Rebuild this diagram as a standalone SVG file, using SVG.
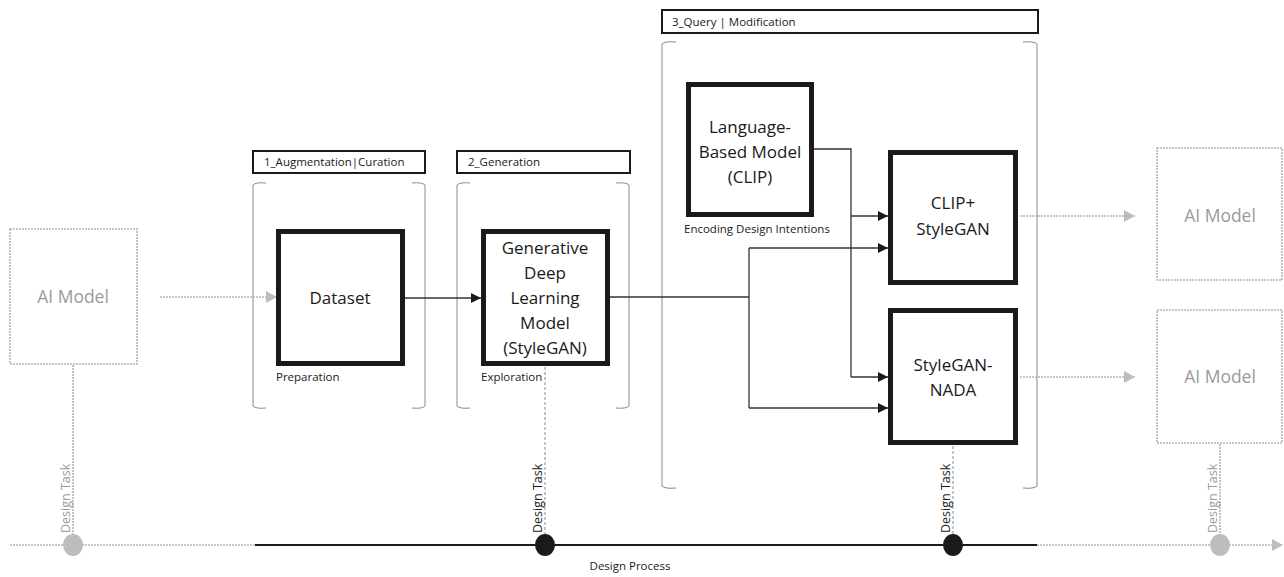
<svg xmlns="http://www.w3.org/2000/svg" width="1284" height="577" viewBox="0 0 1284 577">
<style>
text{font-family:"Open Sans","Noto Sans","Liberation Sans",sans-serif;}
.big{font-size:17px;fill:#1a1a1a;text-anchor:middle;}
.gbig{font-size:17.5px;fill:#9a9a9a;text-anchor:middle;}
.sm{font-size:11.5px;fill:#1a1a1a;}
.gsm{font-size:11.5px;fill:#9a9a9a;}
.vt{font-size:12.5px;}
.node{fill:#fff;stroke:#1a1a1a;stroke-width:5;}
.ghost{fill:none;stroke:#b5b5b5;stroke-width:1.6;stroke-dasharray:2 1;}
.lbl{fill:#fff;stroke:#1a1a1a;stroke-width:2;}
.brk{fill:none;stroke:#8a8a8a;stroke-width:1;}
.con{fill:none;stroke:#333;stroke-width:1.3;}
.gcon{fill:none;stroke:#b5b5b5;stroke-width:1.6;stroke-dasharray:2 1;}
.dash{fill:none;stroke:#8a8a8a;stroke-width:1;stroke-dasharray:3 2;}
</style>
<defs>
<marker id="ah" markerUnits="userSpaceOnUse" markerWidth="10" markerHeight="10" refX="10" refY="5" orient="auto"><path d="M0,0 L10,5 L0,10 z" fill="#1a1a1a"/></marker>
<marker id="gah" markerUnits="userSpaceOnUse" markerWidth="12" markerHeight="12" refX="11" refY="6" orient="auto"><path d="M0,0 L11,6 L0,12 z" fill="#bdbdbd"/></marker>
</defs>

<g id="brackets">
<path class="brk" d="M266,183 Q256,182 253,185 L253,406 Q256,409 266,408"/>
<path class="brk" d="M412,183 Q422,182 425,185 L425,406 Q422,409 412,408"/>
<path class="brk" d="M470,183 Q460,182 457,185 L457,406 Q460,409 470,408"/>
<path class="brk" d="M616,183 Q626,182 629,185 L629,406 Q626,409 616,408"/>
<path class="brk" d="M676,42 Q665,41 662,44 L662,486 Q665,489 676,488"/>
<path class="brk" d="M1023,42 Q1034,41 1037,44 L1037,486 Q1034,489 1023,488"/>
</g>

<g id="label-1">
<rect class="lbl" x="253" y="151" width="172" height="22"/>
<text class="sm" x="264" y="166">1_Augmentation|Curation</text>
</g>
<g id="label-2">
<rect class="lbl" x="457" y="151" width="173" height="22"/>
<text class="sm" x="468" y="166">2_Generation</text>
</g>
<g id="label-3">
<rect class="lbl" x="662" y="10" width="376" height="23"/>
<text class="sm" x="672" y="26">3_Query | Modification</text>
</g>

<g id="connectors">
<line class="gcon" x1="160" y1="297" x2="277" y2="297" marker-end="url(#gah)"/>
<line class="con" x1="405" y1="298" x2="481" y2="298" marker-end="url(#ah)"/>
<polyline class="con" points="610,297 749,297"/>
<line class="con" x1="749" y1="248" x2="749" y2="408"/>
<line class="con" x1="749" y1="248" x2="888" y2="248" marker-end="url(#ah)"/>
<line class="con" x1="749" y1="408" x2="888" y2="408" marker-end="url(#ah)"/>
<polyline class="con" points="814,149 851,149 851,377"/>
<line class="con" x1="851" y1="216" x2="888" y2="216" marker-end="url(#ah)"/>
<line class="con" x1="851" y1="377" x2="888" y2="377" marker-end="url(#ah)"/>
<line class="gcon" x1="1020" y1="216" x2="1135" y2="216" marker-end="url(#gah)"/>
<line class="gcon" x1="1020" y1="377" x2="1135" y2="377" marker-end="url(#gah)"/>
<line class="gcon" x1="73" y1="365" x2="73" y2="545"/>
<line class="dash" x1="545" y1="367" x2="545" y2="545"/>
<line class="dash" x1="953" y1="446" x2="953" y2="545"/>
<line class="gcon" x1="1220" y1="444" x2="1220" y2="545"/>
</g>

<g id="timeline">
<line class="gcon" x1="10" y1="545" x2="255" y2="545"/>
<line x1="255" y1="545" x2="1037" y2="545" stroke="#1a1a1a" stroke-width="2"/>
<line class="gcon" x1="1037" y1="545" x2="1283" y2="545" marker-end="url(#gah)"/>
<ellipse cx="73" cy="545" rx="10" ry="11" fill="#bdbdbd"/>
<ellipse cx="545" cy="545" rx="10" ry="11" fill="#1a1a1a"/>
<ellipse cx="953" cy="545" rx="10" ry="11" fill="#1a1a1a"/>
<ellipse cx="1220" cy="545" rx="10" ry="11" fill="#bdbdbd"/>
<text class="sm" x="630" y="570" text-anchor="middle">Design Process</text>
<text class="gsm vt" transform="translate(70,533) rotate(-90)">Design Task</text>
<text class="sm vt" transform="translate(542,533) rotate(-90)">Design Task</text>
<text class="sm vt" transform="translate(950,533) rotate(-90)">Design Task</text>
<text class="gsm vt" transform="translate(1217,533) rotate(-90)">Design Task</text>
</g>

<g id="ai-model-left">
<rect class="ghost" x="10" y="229" width="127" height="135"/>
<text class="gbig" x="73" y="303">AI Model</text>
</g>

<g id="dataset">
<rect class="node" x="278.5" y="231.5" width="124" height="132"/>
<text class="big" x="340" y="304">Dataset</text>
<text class="sm" x="276" y="381">Preparation</text>
</g>

<g id="generative">
<rect class="node" x="483.5" y="231.5" width="124" height="132"/>
<text class="big" x="545" y="254">Generative</text>
<text class="big" x="545" y="279">Deep</text>
<text class="big" x="545" y="304">Learning</text>
<text class="big" x="545" y="329">Model</text>
<text class="big" x="545" y="354">(StyleGAN)</text>
<text class="sm" x="481" y="381">Exploration</text>
</g>

<g id="clip">
<rect class="node" x="688.5" y="84.5" width="123" height="130"/>
<text class="big" x="750" y="133">Language-</text>
<text class="big" x="750" y="158">Based Model</text>
<text class="big" x="750" y="183">(CLIP)</text>
<text class="sm" x="684" y="233">Encoding Design Intentions</text>
</g>

<g id="clip-stylegan">
<rect class="node" x="890.5" y="152.5" width="125" height="130"/>
<text class="big" x="953" y="209">CLIP+</text>
<text class="big" x="953" y="235">StyleGAN</text>
</g>

<g id="stylegan-nada">
<rect class="node" x="890.5" y="310.5" width="125" height="132"/>
<text class="big" x="953" y="371">StyleGAN-</text>
<text class="big" x="953" y="396">NADA</text>
</g>

<g id="ai-model-right-1">
<rect class="ghost" x="1157" y="148" width="125" height="132"/>
<text class="gbig" x="1220" y="222">AI Model</text>
</g>

<g id="ai-model-right-2">
<rect class="ghost" x="1157" y="310" width="125" height="133"/>
<text class="gbig" x="1220" y="383">AI Model</text>
</g>
</svg>
